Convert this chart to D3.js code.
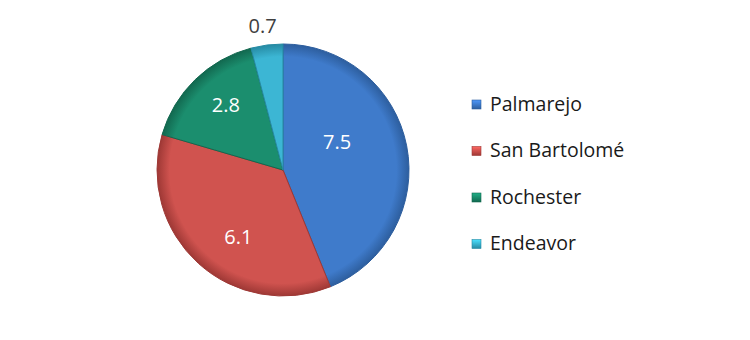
<!DOCTYPE html>
<html><head><meta charset="utf-8">
<script src="https://cdn.jsdelivr.net/npm/d3@7"></script>
<style>body{margin:0;background:#fff}</style>
</head><body>
<script>
const categories = ["Palmarejo", "San Bartolomé", "Rochester", "Endeavor"];
const values = [7.5, 6.1, 2.8, 0.7];
const labels = ["7.5", "6.1", "2.8", "0.7"];
const colors = ["#3f7bcb", "#d0534f", "#1b8e6e", "#3cb6d4"];
const darks = ["#2d5e9e", "#9e3835", "#12684f", "#268aa3"];

const W = 750, H = 340, cx = 283, cy = 170, R = 126;
const font = "'Open Sans', sans-serif";
const svg = d3.select("body").append("svg").attr("width", W).attr("height", H);
const defs = svg.append("defs");
categories.forEach((c, i) => {
  const g = defs.append("radialGradient").attr("id", "g" + i)
    .attr("gradientUnits", "userSpaceOnUse").attr("cx", 0).attr("cy", 0).attr("r", R);
  g.append("stop").attr("offset", "0%").attr("stop-color", colors[i]);
  g.append("stop").attr("offset", "90%").attr("stop-color", colors[i]);
  g.append("stop").attr("offset", "100%").attr("stop-color", darks[i]);
  const lg = defs.append("linearGradient").attr("id", "l" + i).attr("x1", 0).attr("y1", 0).attr("x2", 0).attr("y2", 1);
  lg.append("stop").attr("offset", "0%").attr("stop-color", d3.color(colors[i]).brighter(0.6));
  lg.append("stop").attr("offset", "100%").attr("stop-color", darks[i]);
});

const pie = d3.pie().sort(null).value(d => d)(values);
const arc = d3.arc().innerRadius(0).outerRadius(R);
const g = svg.append("g").attr("transform", `translate(${cx},${cy})`);
g.selectAll("path").data(pie).join("path")
  .attr("d", arc)
  .attr("fill", (d, i) => `url(#g${i})`)
  .attr("stroke", (d, i) => darks[i]).attr("stroke-width", 1).attr("stroke-linejoin", "round");

// label placement (layout): radius fraction and angle shift per slice
const labelLayout = [[0.483, -0.285], [0.64, -0.147], [0.687, 0.05], [1.155, -0.012]];
g.selectAll("text.v").data(pie).join("text").attr("class", "v")
  .attr("transform", (d, i) => {
    const a = (d.startAngle + d.endAngle) / 2 + labelLayout[i][1];
    const r = R * labelLayout[i][0];
    return `translate(${r * Math.sin(a)},${-r * Math.cos(a)})`;
  })
  .attr("text-anchor", "middle").attr("dy", "0.35em")
  .attr("font-family", font).attr("font-size", 20)
  .attr("fill", (d, i) => i === 3 ? "#404040" : "#fff")
  .text((d, i) => labels[i]);

const leg = svg.append("g").attr("transform", "translate(472,104)");
const rows = leg.selectAll("g").data(categories).join("g")
  .attr("transform", (d, i) => `translate(0,${i * 46.5})`);
rows.append("rect").attr("x", 0).attr("y", -4).attr("width", 9).attr("height", 9)
  .attr("fill", (d, i) => `url(#l${i})`).attr("stroke", (d, i) => darks[i]).attr("stroke-width", 0.6);
rows.append("text").attr("x", 18).attr("dy", "0.35em")
  .attr("font-family", font).attr("font-size", 19.5).attr("fill", "#1a1a1a")
  .text(d => d);
</script>
</body></html>
